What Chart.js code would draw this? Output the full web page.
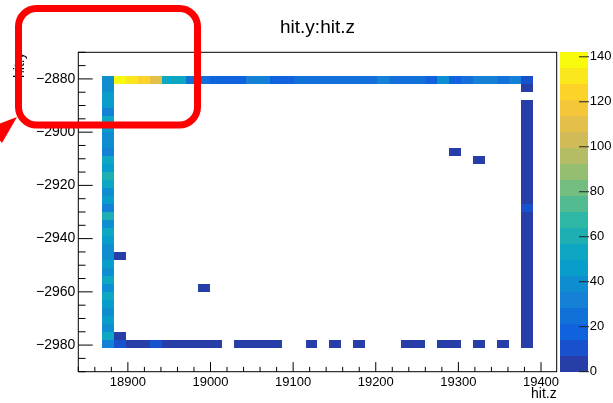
<!DOCTYPE html>
<html>
<head>
<meta charset="utf-8">
<script src="https://cdn.jsdelivr.net/npm/chart.js@4.4.1/dist/chart.umd.min.js"></script>
<style>
  body { margin: 0; background: #fff; }
  #wrap { width: 613px; height: 403px; }
</style>
</head>
<body>
<div id="wrap"><canvas id="hist" width="613" height="403"></canvas></div>
<script>
// histogram binning (ranges as ROOT picked them)
const zRange = [18840, 19419];
const yRange = [-2990, -2870];
const nBins = 40;

// top edge: y bin 36, z bins 2..37
const topEdge = [38, 142, 130, 122, 110, 56, 53, 25, 24, 18, 17, 19, 31, 30, 18, 20, 24, 26,
                 23, 25, 27, 22, 25, 33, 24, 26, 23, 17, 36, 20, 22, 31, 30, 27, 29, 10];
// left edge: z bin 2, y bins 35 down to 3
const leftEdge = [40, 45, 44, 33, 51, 48, 37, 36, 32, 50, 47, 62, 52, 37, 49, 35, 58,
                  38, 51, 44, 37, 42, 48, 39, 52, 38, 51, 47, 39, 49, 40, 54, 30];
// bottom edge: y bin 3, z bins 3..36
const bottomEdge = [10, 4, 5, 13, 4, 3, 5, 4, 3, 0, 3, 4, 4, 2, 0, 0, 2, 0, 3, 0, 2,
                    0, 0, 0, 4, 3, 0, 3, 4, 0, 2, 0, 3, 0];
// right edge: z bin 37, y bins 35 down to 3
const rightEdge = [5, 0, 4, 5, 4, 6, 5, 4, 5, 3, 4, 5, 4, 6, 4, 12,
                   5, 4, 4, 6, 5, 3, 4, 5, 4, 6, 5, 4, 3, 5, 4, 5, 6];
// stray hits: [z bin, y bin, count]
const strayHits = [[3, 14, 2], [10, 10, 2], [3, 4, 3], [31, 27, 2], [33, 26, 2]];

const xTickLabels = [18900, 19000, 19100, 19200, 19300, 19400];
const yTickLabels = [-2980, -2960, -2940, -2920, -2900, -2880];
const zTickLabels = [0, 20, 40, 60, 80, 100, 120, 140];

const zw = (zRange[1] - zRange[0]) / nBins;
const yw = (yRange[1] - yRange[0]) / nBins;
const cells = [];
function addCell(ix, iy, n) {
  if (n > 0) cells.push({ x: zRange[0] + (ix + 0.5) * zw, y: yRange[0] + (iy + 0.5) * yw, v: n });
}
topEdge.forEach((n, i) => addCell(2 + i, 36, n));
leftEdge.forEach((n, i) => addCell(2, 35 - i, n));
bottomEdge.forEach((n, i) => addCell(3 + i, 3, n));
rightEdge.forEach((n, i) => addCell(37, 35 - i, n));
strayHits.forEach(h => addCell(h[0], h[1], h[2]));
const zMax = Math.max(...cells.map(c => c.v));

// ROOT kBird palette, 20 contour levels
const birdStops = [0, 0.125, 0.25, 0.375, 0.5, 0.625, 0.75, 0.875, 1];
const birdR = [0.2082, 0.0592, 0.0780, 0.0232, 0.1802, 0.5301, 0.8186, 0.9956, 0.9764];
const birdG = [0.1664, 0.3599, 0.5041, 0.6419, 0.7178, 0.7492, 0.7328, 0.7862, 0.9832];
const birdB = [0.5293, 0.8684, 0.8385, 0.7914, 0.6425, 0.4662, 0.3499, 0.1968, 0.0539];
function birdAt(f) {
  let k = 0;
  while (k < birdStops.length - 2 && f > birdStops[k + 1]) k++;
  const t = (f - birdStops[k]) / (birdStops[k + 1] - birdStops[k]);
  const mix = a => Math.round(255 * (a[k] + (a[k + 1] - a[k]) * t));
  return 'rgb(' + mix(birdR) + ',' + mix(birdG) + ',' + mix(birdB) + ')';
}
function bandColour(band) {
  const idx = Math.floor((band + 0.99) * 255 / 20);
  return birdAt(idx / 254);
}
function cellColour(v) {
  return bandColour(Math.min(19, Math.floor(v / zMax * 20)));
}

const FONT = 'Liberation Sans, Arial, Helvetica, sans-serif';

// scales must not push the plot area around with half-label paddings
function noPad(s) {
  s.paddingTop = 0; s.paddingBottom = 0; s.paddingLeft = 0; s.paddingRight = 0;
}

const rootLook = {
  id: 'rootLook',
  beforeDatasetsDraw(chart) {
    const ctx = chart.ctx, xs = chart.scales.x, ys = chart.scales.y;
    ctx.save();
    cells.forEach(c => {
      const x0 = Math.round(xs.getPixelForValue(c.x - zw / 2));
      const x1 = Math.round(xs.getPixelForValue(c.x + zw / 2));
      const y0 = Math.round(ys.getPixelForValue(c.y + yw / 2));
      const y1 = Math.round(ys.getPixelForValue(c.y - yw / 2));
      ctx.fillStyle = cellColour(c.v);
      ctx.fillRect(x0, y0, x1 - x0, y1 - y0);
    });
    ctx.restore();
  },
  afterDraw(chart) {
    const ctx = chart.ctx, a = chart.chartArea;
    const xs = chart.scales.x, ys = chart.scales.y, zs = chart.scales.z;
    ctx.save();
    // frame
    ctx.strokeStyle = '#000';
    ctx.lineWidth = 1;
    ctx.strokeRect(a.left, a.top, a.right - a.left, a.bottom - a.top);
    // ticks drawn inside the frame, ROOT style
    ctx.beginPath();
    xs.ticks.forEach(t => {
      const p = xs.getPixelForValue(t.value);
      const len = t.value % 100 === 0 ? 9.6 : 4.8;
      ctx.moveTo(p, a.bottom); ctx.lineTo(p, a.bottom - len);
    });
    ys.ticks.forEach(t => {
      const p = ys.getPixelForValue(t.value);
      const len = t.value % 20 === 0 ? 14.4 : 7.2;
      ctx.moveTo(a.left, p); ctx.lineTo(a.left + len, p);
    });
    ctx.stroke();
    // colour palette
    const pl = zs.left + 3.3, pr = zs.left + 31.3;
    for (let b = 0; b < 20; b++) {
      const yb = Math.round(zs.getPixelForValue(b * zMax / 20));
      const yt = Math.round(zs.getPixelForValue((b + 1) * zMax / 20));
      ctx.fillStyle = bandColour(b);
      ctx.fillRect(pl, yt, pr - pl, yb - yt);
    }
    ctx.beginPath();
    zTickLabels.forEach(v => {
      const p = zs.getPixelForValue(v);
      ctx.moveTo(pr + 1, p); ctx.lineTo(pr - 9, p);
    });
    ctx.strokeStyle = '#222';
    ctx.stroke();
    // red annotation box and arrow
    ctx.strokeStyle = '#ff0000';
    ctx.lineWidth = 7;
    const bx = 18.5, by = 8.5, bw = 179, bh = 116.5, r = 18;
    ctx.beginPath();
    ctx.moveTo(bx + r, by);
    ctx.lineTo(bx + bw - r, by);
    ctx.arcTo(bx + bw, by, bx + bw, by + r, r);
    ctx.lineTo(bx + bw, by + bh - r);
    ctx.arcTo(bx + bw, by + bh, bx + bw - r, by + bh, r);
    ctx.lineTo(bx + r, by + bh);
    ctx.arcTo(bx, by + bh, bx, by + bh - r, r);
    ctx.lineTo(bx, by + r);
    ctx.arcTo(bx, by, bx + r, by, r);
    ctx.closePath();
    ctx.stroke();
    ctx.fillStyle = '#ff0000';
    ctx.beginPath();
    ctx.moveTo(17, 117);
    ctx.lineTo(-11, 127.5);
    ctx.lineTo(2, 143);
    ctx.closePath();
    ctx.fill();
    ctx.restore();
  }
};

new Chart(document.getElementById('hist'), {
  type: 'scatter',
  data: {
    datasets: [{ label: 'hit.y:hit.z', data: cells, pointRadius: 0, pointHoverRadius: 0 }]
  },
  options: {
    responsive: false,
    animation: false,
    devicePixelRatio: 1,
    events: [],
    layout: { padding: 0 },
    plugins: {
      legend: { display: false },
      tooltip: { enabled: false },
      title: {
        display: true,
        text: 'hit.y:hit.z',
        fullSize: false,
        color: '#000',
        font: { family: FONT, size: 19, weight: 'normal' },
        padding: { top: 16, bottom: 13.5 }
      }
    },
    scales: {
      x: {
        type: 'linear',
        position: 'bottom',
        min: zRange[0],
        max: zRange[1],
        grid: { display: false, drawTicks: false },
        border: { display: false },
        ticks: {
          stepSize: 20,
          maxTicksLimit: 100,
          includeBounds: false,
          autoSkip: false,
          maxRotation: 0,
          minRotation: 0,
          padding: 3,
          color: '#000',
          font: { family: FONT, size: 13 },
          callback: v => xTickLabels.includes(v) ? String(v) : ''
        },
        title: {
          display: true,
          text: 'hit.z',
          align: 'end',
          color: '#000',
          font: { family: FONT, size: 14 },
          padding: { top: 0, bottom: 0 }
        },
        afterFit: s => { s.height = 31.3; noPad(s); }
      },
      y: {
        type: 'linear',
        position: 'left',
        min: yRange[0],
        max: yRange[1],
        grid: { display: false, drawTicks: false },
        border: { display: false },
        ticks: {
          stepSize: 5,
          maxTicksLimit: 100,
          includeBounds: false,
          autoSkip: false,
          padding: 3,
          color: '#000',
          font: { family: FONT, size: 14 },
          callback: v => yTickLabels.includes(v) ? String(v).replace('-', '\u2212') : ''
        },
        title: {
          display: true,
          text: 'hit.y',
          align: 'end',
          color: '#000',
          font: { family: FONT, size: 14 },
          padding: { top: 12, bottom: 0 }
        },
        afterFit: s => { s.width = 78.3; noPad(s); }
      },
      z: {
        type: 'linear',
        position: 'right',
        min: 0,
        max: zMax,
        grid: { display: false, drawTicks: false },
        border: { display: false },
        ticks: {
          stepSize: 20,
          includeBounds: false,
          autoSkip: false,
          padding: 33,
          color: '#000',
          font: { family: FONT, size: 13 },
          callback: v => zTickLabels.includes(v) ? String(v) : ''
        },
        afterFit: s => { s.width = 56.3; noPad(s); }
      }
    }
  },
  plugins: [rootLook]
});
</script>
</body>
</html>
